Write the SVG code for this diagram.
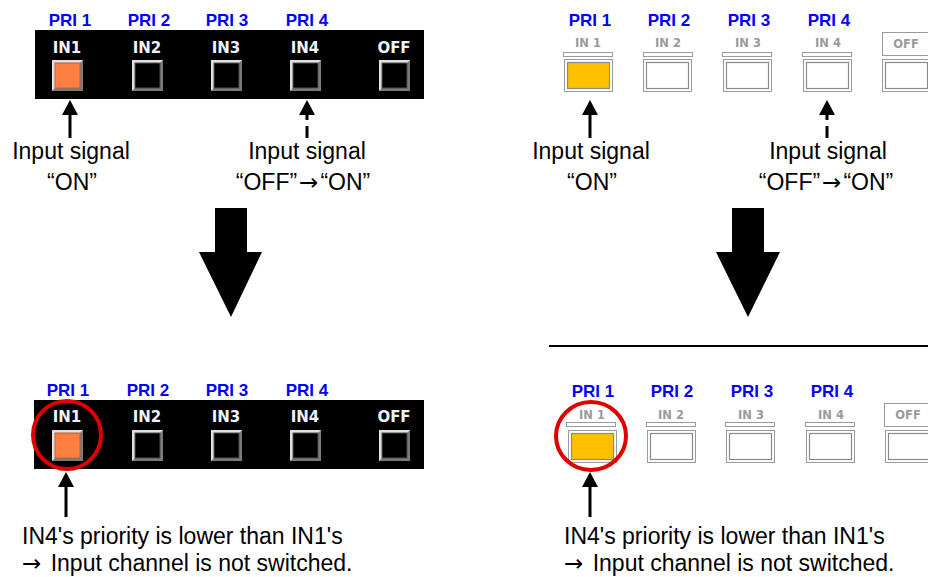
<svg xmlns="http://www.w3.org/2000/svg" xmlns:xlink="http://www.w3.org/1999/xlink" width="928" height="577" viewBox="0 0 928 577">
<style>
.pri{font-family:"Liberation Sans",Arial,sans-serif;font-weight:bold;font-size:17px;fill:#0000ff;text-anchor:middle}
.inl{font-family:"DejaVu Sans",Verdana,sans-serif;font-weight:bold;font-size:15px;fill:#eef4fa;text-anchor:middle}
.inr{font-family:"DejaVu Sans",Verdana,sans-serif;font-weight:bold;font-size:11.5px;fill:#9a9a9a;text-anchor:middle}
.txt{font-family:"Liberation Sans",Arial,sans-serif;font-size:23px;fill:#000}
.arr{font-family:"DejaVu Sans",sans-serif;font-size:23px}
.mid{text-anchor:middle}
.conn{stroke:#000;stroke-width:3;fill:none}
.dash{stroke-dasharray:12 6}
.ring{fill:none;stroke:#e00000;stroke-width:4}
.bar{fill:#fff;stroke:#999;stroke-width:1}
</style>
<defs>
<marker id="ah" viewBox="0 0 15 16" markerUnits="userSpaceOnUse" markerWidth="15" markerHeight="16" refX="7" refY="8" orient="auto">
<path d="M0,0 L15,8 L0,16 z" fill="#000"/>
</marker>
<g id="btnL">
<rect x="0" y="0" width="31" height="31" fill="#7a7a7a"/>
<polygon points="0,0 31,0 28,3 3,3 3,28 0,31" fill="#e0e0e0"/>
<rect x="3" y="3" width="25" height="25" fill="#000" stroke="#505050" stroke-width="1"/>
</g>
<g id="btnLon">
<rect x="0" y="0" width="31" height="31" fill="#7a7a7a"/>
<polygon points="0,0 31,0 28,3 3,3 3,28 0,31" fill="#e0e0e0"/>
<rect x="3" y="3" width="25" height="25" fill="#ff7f40" stroke="#c06030" stroke-width="1"/>
</g>
<g id="btnR">
<rect x="0.5" y="0.5" width="48" height="32" fill="#fff" stroke="#9a9a9a" stroke-width="1"/>
<rect x="3.5" y="3.5" width="42" height="26" fill="#fff" stroke="#8a8a8a" stroke-width="1.2"/>
</g>
<g id="btnRon">
<rect x="0.5" y="0.5" width="48" height="32" fill="#fff" stroke="#9a9a9a" stroke-width="1"/>
<rect x="3.5" y="3.5" width="42" height="26" fill="#ffc000" stroke="#8a8a8a" stroke-width="1.2"/>
</g>
</defs>
<rect width="928" height="577" fill="#fff"/>

<g id="panel-top-left">
<text class="pri" x="70" y="26">PRI 1</text>
<text class="pri" x="149" y="26">PRI 2</text>
<text class="pri" x="227" y="26">PRI 3</text>
<text class="pri" x="307" y="26">PRI 4</text>
<rect x="35" y="30" width="389" height="69" fill="#000"/>
<text class="inl" x="67" y="53">IN1</text>
<text class="inl" x="147" y="53">IN2</text>
<text class="inl" x="226" y="53">IN3</text>
<text class="inl" x="305" y="53">IN4</text>
<text class="inl" x="394" y="53">OFF</text>
<use xlink:href="#btnLon" x="52" y="60"/>
<use xlink:href="#btnL" x="132" y="60"/>
<use xlink:href="#btnL" x="211" y="60"/>
<use xlink:href="#btnL" x="290" y="60"/>
<use xlink:href="#btnL" x="379" y="60"/>
</g>

<g id="panel-bottom-left">
<text class="pri" x="68" y="396">PRI 1</text>
<text class="pri" x="148" y="396">PRI 2</text>
<text class="pri" x="227" y="396">PRI 3</text>
<text class="pri" x="307" y="396">PRI 4</text>
<rect x="34" y="400" width="390" height="69" fill="#000"/>
<text class="inl" x="67" y="422">IN1</text>
<text class="inl" x="147" y="422">IN2</text>
<text class="inl" x="226" y="422">IN3</text>
<text class="inl" x="305" y="422">IN4</text>
<text class="inl" x="394" y="422">OFF</text>
<use xlink:href="#btnLon" x="52" y="430"/>
<use xlink:href="#btnL" x="132" y="430"/>
<use xlink:href="#btnL" x="211" y="430"/>
<use xlink:href="#btnL" x="290" y="430"/>
<use xlink:href="#btnL" x="379" y="430"/>
<ellipse class="ring" cx="67" cy="435" rx="34" ry="34"/>
</g>

<g id="panel-top-right">
<text class="pri" x="590" y="26">PRI 1</text>
<text class="pri" x="669" y="26">PRI 2</text>
<text class="pri" x="749" y="26">PRI 3</text>
<text class="pri" x="829" y="26">PRI 4</text>
<text class="inr" x="588" y="47">IN 1</text>
<text class="inr" x="668" y="47">IN 2</text>
<text class="inr" x="748" y="47">IN 3</text>
<text class="inr" x="828" y="47">IN 4</text>
<rect class="bar" x="563.5" y="52.5" width="49" height="4"/>
<rect class="bar" x="643.5" y="52.5" width="49" height="4"/>
<rect class="bar" x="722.5" y="52.5" width="49" height="4"/>
<rect class="bar" x="802.5" y="52.5" width="49" height="4"/>
<rect x="882.5" y="32.5" width="60" height="23" fill="#fff" stroke="#9a9a9a" stroke-width="1"/>
<text class="inr" x="906" y="48">OFF</text>
<use xlink:href="#btnRon" x="564" y="59"/>
<use xlink:href="#btnR" x="643" y="59"/>
<use xlink:href="#btnR" x="723" y="59"/>
<use xlink:href="#btnR" x="803" y="59"/>
<use xlink:href="#btnR" x="882" y="59"/>
</g>

<g id="panel-bottom-right">
<line x1="549" y1="346" x2="928" y2="346" stroke="#000" stroke-width="2"/>
<text class="pri" x="593" y="397">PRI 1</text>
<text class="pri" x="672" y="397">PRI 2</text>
<text class="pri" x="752" y="397">PRI 3</text>
<text class="pri" x="832" y="397">PRI 4</text>
<text class="inr" x="592" y="419">IN 1</text>
<text class="inr" x="671" y="419">IN 2</text>
<text class="inr" x="751" y="419">IN 3</text>
<text class="inr" x="831" y="419">IN 4</text>
<rect class="bar" x="566.5" y="422.5" width="49" height="4"/>
<rect class="bar" x="646.5" y="422.5" width="49" height="4"/>
<rect class="bar" x="725.5" y="422.5" width="49" height="4"/>
<rect class="bar" x="805.5" y="422.5" width="49" height="4"/>
<rect x="884.5" y="403.5" width="60" height="23" fill="#fff" stroke="#9a9a9a" stroke-width="1"/>
<text class="inr" x="908" y="419">OFF</text>
<use xlink:href="#btnRon" x="568" y="430"/>
<use xlink:href="#btnR" x="647" y="430"/>
<use xlink:href="#btnR" x="726" y="430"/>
<use xlink:href="#btnR" x="806" y="430"/>
<use xlink:href="#btnR" x="885" y="430"/>
<ellipse class="ring" cx="591" cy="436" rx="35" ry="34"/>
</g>

<g id="labels">
<text class="txt mid" x="71" y="159">Input signal</text>
<text class="txt mid" x="72" y="190">“ON”</text>
<text class="txt mid" x="307" y="159">Input signal</text>
<text class="txt mid" x="303" y="190">“OFF”<tspan class="arr" dx="2">→</tspan><tspan dx="2">“ON”</tspan></text>
<text class="txt mid" x="591" y="159">Input signal</text>
<text class="txt mid" x="592" y="190">“ON”</text>
<text class="txt mid" x="828" y="159">Input signal</text>
<text class="txt mid" x="826" y="190">“OFF”<tspan class="arr" dx="2">→</tspan><tspan dx="2">“ON”</tspan></text>
<text class="txt" x="22" y="544">IN4's priority is lower than IN1's</text>
<text class="txt" x="22" y="571"><tspan class="arr">→</tspan><tspan dx="3"> Input channel is not switched.</tspan></text>
<text class="txt" x="564" y="544">IN4's priority is lower than IN1's</text>
<text class="txt" x="564" y="571"><tspan class="arr">→</tspan><tspan dx="3"> Input channel is not switched.</tspan></text>
</g>

<g id="big-arrows">
<polygon points="215,208 247,208 247,252 262,252 231,317 199,252 215,252" fill="#000"/>
<polygon points="732,208 764,208 764,252 780,252 748,317 716,252 732,252" fill="#000"/>
</g>

<g id="connectors">
<line class="conn" x1="70" y1="138" x2="70" y2="108" marker-end="url(#ah)"/>
<line class="conn dash" x1="307" y1="138" x2="307" y2="108" marker-end="url(#ah)"/>
<line class="conn" x1="590" y1="138" x2="590" y2="108" marker-end="url(#ah)"/>
<line class="conn dash" x1="827" y1="138" x2="827" y2="108" marker-end="url(#ah)"/>
<line class="conn" x1="66" y1="517" x2="66" y2="480" marker-end="url(#ah)"/>
<line class="conn" x1="590" y1="517" x2="590" y2="480" marker-end="url(#ah)"/>
</g>
</svg>
